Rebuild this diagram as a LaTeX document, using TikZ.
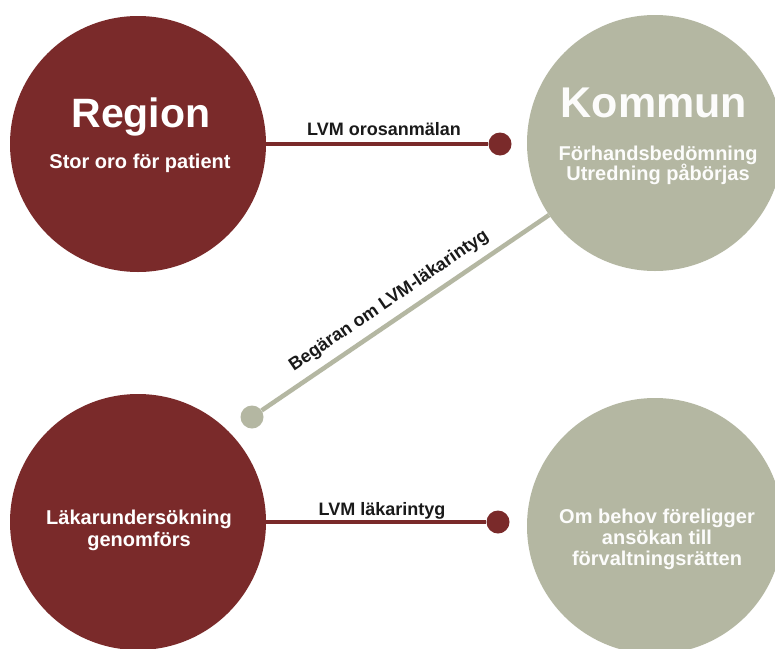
\documentclass[tikz,border=0pt]{standalone}
\usepackage{fontspec}
\setmainfont{Liberation Sans}
\definecolor{dred}{HTML}{7A2A2A}
\definecolor{sage}{HTML}{B4B7A2}
\definecolor{labelc}{HTML}{1A1A1A}
\tikzset{
  bigc/.style={circle, minimum size=256pt, inner sep=0pt, draw=none},
  dotr/.style={circle, fill=dred, minimum size=23pt, inner sep=0pt},
  dotg/.style={circle, fill=sage, minimum size=23pt, inner sep=0pt},
  redline/.style={draw=dred, line width=4pt},
  sageline/.style={draw=sage, line width=4.5pt},
  title/.style={anchor=base, text=white, font=\bfseries\fontsize{41}{45}\selectfont},
  sub/.style={anchor=base, text=white, font=\bfseries\fontsize{20}{22}\selectfont},
  lbl/.style={anchor=base, text=labelc, font=\bfseries\fontsize{18}{20}\selectfont},
}
\begin{document}
\begin{tikzpicture}[x=1pt,y=-1pt]
\useasboundingbox (0,0) rectangle (775,648);
\clip (0,0) rectangle (775,648);
\fill[white] (0,0) rectangle (775,648);
% circles
\node[bigc, fill=dred] (region) at (138,144) {};
\node[bigc, fill=sage] (kommun) at (655,143) {};
\node[bigc, fill=dred] (lakare) at (138,522) {};
\node[bigc, fill=sage] (forv) at (655,526) {};
% dots
\node[dotr] (dota) at (500,144) {};
\node[dotr] (dotb) at (498,522) {};
\node[dotg] (dotc) at (252,417) {};
% connectors
\draw[redline] (region) -- (dota);
\draw[redline] (lakare) -- (dotb);
\draw[sageline] (kommun) -- (dotc)
  node[pos=0.52, sloped, above=5pt, inner sep=3pt, text=labelc, font=\bfseries\fontsize{18}{20}\selectfont] (lblc) {Begäran om LVM-läkarintyg};
% labels
\node[lbl] (lbla) at (384,135) {LVM orosanmälan};
\node[lbl] (lblb) at (382,515) {LVM läkarintyg};
% circle texts
\node[title] (t1) at (141,127) {Region};
\node[sub] (t1s) at (140,168) {Stor oro för patient};
\node[title, text=white!96!sage, font=\bfseries\fontsize{43}{47}\selectfont] (t2) at (654,117) {Kommun};
\node[sub, text=white!96!sage] (t2a) at (658,160) {Förhandsbedömning};
\node[sub, text=white!96!sage] (t2b) at (658,180) {Utredning påbörjas};
\node[sub] (t3a) at (139,524) {Läkarundersökning};
\node[sub] (t3b) at (139,546) {genomförs};
\node[sub, text=white!96!sage] (t4a) at (657,523) {Om behov föreligger};
\node[sub, text=white!96!sage] (t4b) at (657,544) {ansökan till};
\node[sub, text=white!96!sage] (t4c) at (657,565) {förvaltningsrätten};
\end{tikzpicture}
\end{document}
